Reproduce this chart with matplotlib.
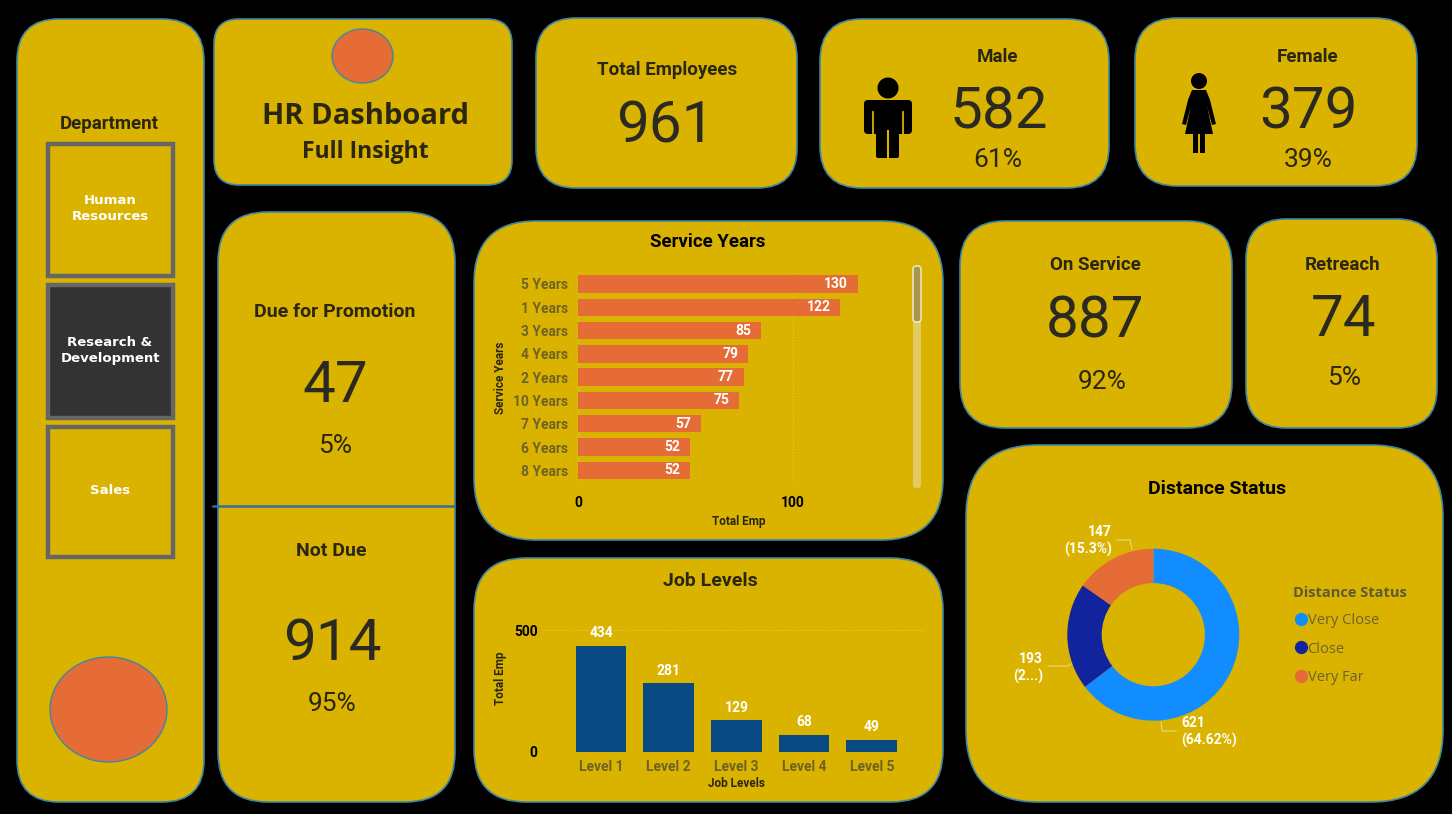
import matplotlib
matplotlib.use("Agg")
import matplotlib.pyplot as plt
from matplotlib.patches import FancyBboxPatch, Ellipse, Circle, Polygon, Rectangle
from matplotlib.lines import Line2D

W, H = 1452, 814

# data
service_years = ["5 Years", "1 Years", "3 Years", "4 Years", "2 Years", "10 Years", "7 Years", "6 Years", "8 Years"]
service_emp = [130, 122, 85, 79, 77, 75, 57, 52, 52]
job_levels = ["Level 1", "Level 2", "Level 3", "Level 4", "Level 5"]
job_emp = [434, 281, 129, 68, 49]
distance_status = ["Very Close", "Close", "Very Far"]
distance_emp = [621, 193, 147]
distance_labels = ["621\n(64.62%)", "193\n(2...)", "147\n(15.3%)"]
departments = ["Human\nResources", "Research &\nDevelopment", "Sales"]

YEL = "#D9B300"
EDGE = "#3F86A3"
ORANGE = "#E66C37"
DARK = "#2b2612"
GREY = "#6E6325"
DIN = "Roboto"
SEG = "Open Sans"

fig = plt.figure(figsize=(W / 100, H / 100), dpi=100, facecolor="black")
bg = fig.add_axes([0, 0, 1, 1])
bg.set_xlim(0, W)
bg.set_ylim(H, 0)
bg.axis("off")


def card(x0, y0, x1, y1, r):
    p = FancyBboxPatch((x0 + r, y0 + r), x1 - x0 - 2 * r, y1 - y0 - 2 * r,
                       boxstyle="round,pad=%d,rounding_size=%d" % (r, r),
                       fc=YEL, ec=EDGE, lw=1.2)
    bg.add_patch(p)


def txt(x, y, s, size, weight="normal", color=DARK, family=DIN, **kw):
    bg.text(x, y, s, fontsize=size, fontweight=weight, color=color, family=family,
            ha=kw.pop("ha", "center"), va=kw.pop("va", "center"), **kw)


def big(x, y, s):
    txt(x, y, s, 42, "normal", "#2b2a22")


def pix_axes(x0, y0, x1, y1):
    ax = fig.add_axes([x0 / W, 1 - y1 / H, (x1 - x0) / W, (y1 - y0) / H])
    ax.patch.set_alpha(0)
    for s in ax.spines.values():
        s.set_visible(False)
    return ax


card(17, 19, 204, 802, 42)
card(214, 19, 512, 185, 25)
card(536, 18, 797, 188, 40)
card(820, 19, 1109, 188, 42)
card(1135, 18, 1417, 186, 42)
card(218, 212, 455, 802, 50)
card(474, 221, 943, 540, 62)
card(474, 558, 943, 802, 52)
card(960, 221, 1232, 428, 45)
card(1246, 219, 1437, 428, 40)
card(966, 445, 1443, 802, 72)

# circles
bg.add_patch(Ellipse((362.5, 56), 61, 54, fc=ORANGE, ec=EDGE, lw=1))
bg.add_patch(Ellipse((108.5, 709.5), 117, 105, fc=ORANGE, ec=EDGE, lw=1))
bg.plot([213, 453], [506, 506], color="#2E6FA0", lw=1.8)

# department slicer
txt(109, 124, "Department", 13.5, "bold")
for i, d in enumerate(departments):
    y0 = [144, 285, 427][i]
    y1 = [276, 418, 557][i]
    fc = "#333333" if i == 1 else YEL
    bg.add_patch(Rectangle((47.5, y0), 125, y1 - y0, fc=fc, ec="#666666", lw=3.2))
    txt(110, (y0 + y1) / 2 - 1, d, 9.5, "bold", "white", "DejaVu Sans", linespacing=1.3)

# header cards
txt(365, 116, "HR Dashboard", 21, "bold", DARK, SEG)
txt(365, 152, "Full Insight", 16.5, "bold", DARK, SEG)

txt(667, 70, "Total Employees", 13.5, "bold")
big(665, 127, "961")
txt(997, 57, "Male", 13.5, "bold")
big(999, 113, "582")
txt(998, 160, "61%", 19)
txt(1308, 57, "Female", 13.5, "bold")
big(1308, 113, "379")
txt(1308, 160, "39%", 19)

# male icon
bg.add_patch(Circle((888, 88), 10.5, fc="black", ec="none"))
bg.add_patch(FancyBboxPatch((868, 104), 40, 26, boxstyle="round,pad=4,rounding_size=4", fc="black", ec="none"))
bg.add_patch(FancyBboxPatch((878, 120), 19, 36, boxstyle="round,pad=2,rounding_size=2", fc="black", ec="none"))
bg.plot([873, 873], [112, 135], color=YEL, lw=1.3)
bg.plot([903, 903], [112, 135], color=YEL, lw=1.3)
bg.plot([887.5, 887.5], [131, 160], color=YEL, lw=1.5)
# female icon
bg.add_patch(Circle((1199, 81), 8, fc="black", ec="none"))
bg.add_patch(Polygon([(1192, 90), (1206, 90), (1210, 100), (1216, 124), (1212, 125), (1207, 106), (1213, 134),
                      (1185, 134), (1191, 106), (1186, 125), (1182, 124), (1188, 100)], fc="black", ec="none"))
bg.add_patch(Rectangle((1193, 132), 5, 21, fc="black", ec="none"))
bg.add_patch(Rectangle((1200, 132), 5, 21, fc="black", ec="none"))

# promotion card
txt(335, 312, "Due for Promotion", 14, "bold")
big(335, 387, "47")
txt(335, 446, "5%", 19)
txt(331, 551, "Not Due", 14, "bold")
big(332, 645, "914")
txt(332, 704, "95%", 19)

# service / retrench
txt(1095, 265, "On Service", 13.5, "bold")
big(1095, 322, "887")
txt(1102, 382, "92%", 19)
txt(1343, 265, "Retreach", 13.5, "bold")
big(1344, 321, "74")
txt(1344, 378, "5%", 19)

# service years chart
txt(708, 242, "Service Years", 13.5, "bold", "black")
ax = pix_axes(578, 272.3, 905, 482)
y = list(range(len(service_years)))
bars = ax.barh(y, service_emp, height=0.75, color=ORANGE)
ax.set_ylim(len(y) - 0.5, -0.5)
ax.set_xlim(0, 327 / 2.15)
ax.set_yticks(y, service_years, fontsize=10, fontweight="bold", color=GREY, family=DIN)
ax.set_xticks([0, 100], ["0", "100"], fontsize=10, fontweight="bold", color="black", family=DIN)
ax.tick_params(length=0)
ax.tick_params(axis="y", pad=7)
ax.tick_params(axis="x", pad=10)
ax.grid(axis="x", color="#E3CC55", ls=":", lw=0.8)
ax.set_axisbelow(True)
for t in ax.bar_label(bars, padding=-7, color="white", fontsize=10, fontweight="bold", family=DIN):
    t.set_ha("right")
ax.set_xlabel("Total Emp", fontsize=8.5, fontweight="bold", color=DARK, family=DIN)
ax.xaxis.set_label_coords(739, 515, transform=bg.transData)
ax.set_ylabel("Service Years", fontsize=8.5, fontweight="bold", color=DARK, family=DIN)
ax.yaxis.set_label_coords(507, 378, transform=bg.transData)

# scrollbar
bg.add_patch(FancyBboxPatch((914, 268), 6, 219, boxstyle="round,pad=1,rounding_size=3", fc="#E2CB63", ec="none"))
bg.add_patch(FancyBboxPatch((914, 267), 6, 54, boxstyle="round,pad=1,rounding_size=3", fc="#A8954F", ec="#F5F0D0", lw=1))

# job levels chart
txt(710, 581, "Job Levels", 14, "bold")
ax2 = pix_axes(543, 630, 925, 751.5)
x = list(range(len(job_levels)))
bars2 = ax2.bar(x, job_emp, width=0.75, color="#0A4A83")
ax2.set_xlim(-0.857, 4.786)
ax2.set_ylim(0, 500)
ax2.set_xticks(x, job_levels, fontsize=10, fontweight="bold", color=GREY, family=DIN)
ax2.set_yticks([0, 500], ["0", "500"], fontsize=10, fontweight="bold", color="black", family=DIN)
ax2.tick_params(length=0)
ax2.tick_params(axis="x", pad=6)
ax2.tick_params(axis="y", pad=4)
ax2.grid(axis="y", color="#E3CC55", ls=":", lw=0.8)
ax2.set_axisbelow(True)
ax2.bar_label(bars2, padding=4, color="white", fontsize=10, fontweight="bold", family=DIN)
ax2.set_xlabel("Job Levels", fontsize=8.5, fontweight="bold", color=DARK, family=DIN)
ax2.xaxis.set_label_coords(737, 777, transform=bg.transData)
ax2.set_ylabel("Total Emp", fontsize=8.5, fontweight="bold", color=DARK, family=DIN)
ax2.yaxis.set_label_coords(507, 678, transform=bg.transData)

# distance donut
txt(1217, 489, "Distance Status", 14, "bold", "black")
ax3 = pix_axes(1153.3 - 86, 634.7 - 86, 1153.3 + 86, 634.7 + 86)
colors = ["#118DFF", "#12239E", ORANGE]
ax3.pie(distance_emp, colors=colors, startangle=90, counterclock=False, radius=1,
        wedgeprops={"width": 0.4, "lw": 0})
ax3.set_xlim(-1, 1)
ax3.set_ylim(-1, 1)

label_pos = [(1181, 732, "left"), (1043, 668, "right"), (1112, 541, "right")]
for s, (lx, ly, ha) in zip(distance_labels, label_pos):
    txt(lx, ly, s, 10, "bold", "white", ha=ha, linespacing=1.3, multialignment="left" if ha == "left" else "right")
LEAD = "#EBDD9A"
bg.plot([1161, 1162, 1176], [722, 731, 731], color=LEAD, lw=0.7)
bg.plot([1048, 1068, 1071], [666, 666, 664], color=LEAD, lw=0.7)
bg.plot([1117, 1130, 1132], [540, 540, 549], color=LEAD, lw=0.7)

handles = [Line2D([], [], ls="", marker="o", ms=8.5, color=c) for c in colors]
leg = ax3.legend(handles, distance_status, title="Distance Status", loc="upper left",
                 bbox_to_anchor=(1293 / W, 1 - 586 / H), bbox_transform=fig.transFigure,
                 frameon=False, alignment="left", labelcolor="#6B6330", handletextpad=-0.1,
                 handlelength=1.1, labelspacing=0.91, borderpad=0, borderaxespad=0,
                 prop={"family": SEG, "size": 10.5})
leg.get_title().set(fontfamily=SEG, fontweight="bold", fontsize=10.5, color="#5F5A35")

fig.savefig("out.png", dpi=100, facecolor="black")
